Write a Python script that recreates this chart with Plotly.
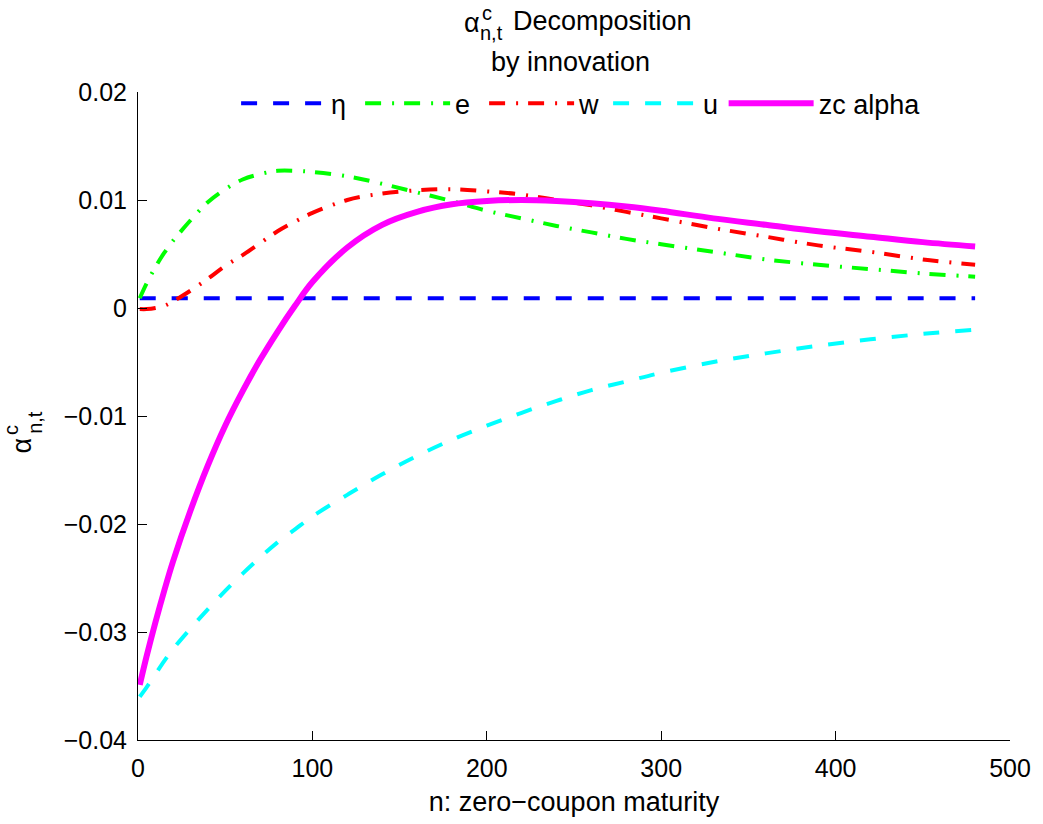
import plotly.graph_objects as go

# ---------------- data ----------------
n = [1, 5, 10, 15, 20, 30, 40, 50, 60, 70, 80, 90, 100, 120, 140, 160, 180,
     200, 220, 240, 260, 280, 300, 330, 360, 390, 420, 450, 480]

eta = [0.0009, 0.0009, 0.0009, 0.0009, 0.0009, 0.0009, 0.0009, 0.0009, 0.0009,
       0.0009, 0.0009, 0.0009, 0.0009, 0.0009, 0.0009, 0.0009, 0.0009, 0.0009,
       0.0009, 0.0009, 0.0009, 0.0009, 0.0009, 0.0009, 0.0009, 0.0009, 0.0009,
       0.0009, 0.0009]

e_innov = [0.0009, 0.0023, 0.0038, 0.0051, 0.0062, 0.0081, 0.0098, 0.0110,
           0.0119, 0.0124, 0.0127, 0.0127, 0.0126, 0.0122, 0.0115, 0.0107,
           0.0099, 0.0090, 0.0083, 0.0076, 0.0070, 0.0064, 0.0059, 0.0052,
           0.0045, 0.0040, 0.0036, 0.0032, 0.0029]

w_innov = [-0.0001, -0.0001, 0.0000, 0.0002, 0.0006, 0.0016, 0.0027, 0.0039,
           0.0049, 0.0060, 0.0071, 0.0080, 0.0088, 0.0100, 0.0106, 0.0109,
           0.0110, 0.0108, 0.0105, 0.0100, 0.0095, 0.0089, 0.0083, 0.0074,
           0.0066, 0.0058, 0.0052, 0.0045, 0.0040]

u_innov = [-0.0360, -0.0351, -0.0339, -0.0327, -0.0316, -0.0297, -0.0279,
           -0.0262, -0.0246, -0.0231, -0.0217, -0.0205, -0.0193, -0.0173,
           -0.0154, -0.0137, -0.0122, -0.0109, -0.0097, -0.0086, -0.0076,
           -0.0068, -0.0060, -0.0050, -0.0042, -0.0035, -0.0029, -0.0024,
           -0.0020]

zc_alpha = [-0.0349, -0.0322, -0.0291, -0.0262, -0.0235, -0.0188, -0.0146,
            -0.0109, -0.0077, -0.0048, -0.0022, 0.0002, 0.0024, 0.0056,
            0.0077, 0.0089, 0.0096, 0.0099, 0.0100, 0.0099, 0.0097, 0.0094,
            0.0090, 0.0083, 0.0077, 0.0071, 0.0066, 0.0061, 0.0057]

x_ticks = [0, 100, 200, 300, 400, 500]
x_ticktext = ["0", "100", "200", "300", "400", "500"]
y_ticks = [-0.04, -0.03, -0.02, -0.01, 0.0, 0.01, 0.02]
y_ticktext = ["\u22120.04", "\u22120.03", "\u22120.02", "\u22120.01", "0", "0.01", "0.02"]

series_names = ["\u03b7", "e", "w", "u", "zc alpha"]

# ---------------- layout geometry ----------------
W, H = 1043, 824
ML, MR, MT, MB = 138, 25, 92, 72
PW, PH = W - ML - MR, H - MT - MB
FONT = "Liberation Sans, Arial, Helvetica, sans-serif"
FS_TICK = 25
FS_LAB = 27
FS_SUB = 20


def px_x(px):
    return (px - ML) / PW


def px_y(py):
    return (H - MB - py) / PH


fig = go.Figure()

styles = [
    dict(color="#0000FF", width=4, dash="16px,16px", legend="legend"),
    dict(color="#00FF00", width=4, dash="16px,11px,2px,10px", legend="legend"),
    dict(color="#FF0000", width=4, dash="16px,11px,2px,10px", legend="legend"),
    dict(color="#00FFFF", width=4, dash="16px,16px", legend="legend"),
    dict(color="#FF00FF", width=6, dash="solid", legend="legend2"),
]
values = [eta, e_innov, w_innov, u_innov, zc_alpha]

for name, vals, st in zip(series_names, values, styles):
    fig.add_trace(go.Scatter(
        x=n, y=vals, mode="lines", name=name, legend=st["legend"],
        line=dict(color=st["color"], width=st["width"], dash=st["dash"],
                  shape="spline", smoothing=1.0),
    ))

annotations = [
    # title line 1: alpha with stacked super/subscript
    dict(text="\u03b1", x=px_x(475), y=px_y(22), font=dict(size=FS_LAB)),
    dict(text="c", x=px_x(490), y=px_y(12), font=dict(size=FS_SUB)),
    dict(text="n,t", x=px_x(495), y=px_y(32), font=dict(size=FS_SUB)),
    dict(text="Decomposition", x=px_x(515), y=px_y(20), xanchor="left",
         font=dict(size=FS_LAB)),
    dict(text="by innovation", x=px_x(574), y=px_y(61), font=dict(size=FS_LAB)),
    # y-axis label (rotated)
    dict(text="\u03b1", x=px_x(21), y=px_y(452), textangle=-90,
         font=dict(size=FS_LAB)),
    dict(text="c", x=px_x(10), y=px_y(436), textangle=-90,
         font=dict(size=FS_SUB)),
    dict(text="n,t", x=px_x(34), y=px_y(428), textangle=-90,
         font=dict(size=FS_SUB)),
]
for a in annotations:
    a.setdefault("xanchor", "center")
    a.setdefault("yanchor", "middle")
    a.update(xref="paper", yref="paper", showarrow=False, borderpad=0)
    a["font"].update(family=FONT, color="black")

legend_common = dict(orientation="h", xanchor="left", yanchor="middle",
                     bgcolor="rgba(0,0,0,0)", borderwidth=0, itemwidth=85,
                     font=dict(family=FONT, size=FS_LAB, color="black"))

fig.update_layout(
    width=W, height=H,
    margin=dict(l=ML, r=MR, t=MT, b=MB, pad=0),
    paper_bgcolor="white", plot_bgcolor="white",
    font=dict(family=FONT, size=FS_TICK, color="black"),
    showlegend=True,
    legend=dict(x=px_x(237), y=px_y(104), entrywidth=24,
                entrywidthmode="pixels", **legend_common),
    legend2=dict(x=px_x(729), y=px_y(104), **legend_common),
    annotations=annotations,
    xaxis=dict(range=[0, 500], tickmode="array", tickvals=x_ticks,
               ticktext=x_ticktext, ticks="inside", ticklen=9, tickwidth=1,
               tickcolor="black", showline=True, linecolor="black",
               linewidth=1, mirror=False, showgrid=False, zeroline=False,
               ticklabelstandoff=6,
               title=dict(text="n: zero\u2212coupon maturity",
                          font=dict(family=FONT, size=FS_LAB), standoff=11)),
    yaxis=dict(range=[-0.04, 0.02], tickmode="array", tickvals=y_ticks,
               ticktext=y_ticktext, ticks="inside", ticklen=9, tickwidth=1,
               tickcolor="black", showline=True, linecolor="black",
               linewidth=1, mirror=False, showgrid=False, zeroline=False,
               ticklabelstandoff=5),
)

fig.write_html("out.html")
